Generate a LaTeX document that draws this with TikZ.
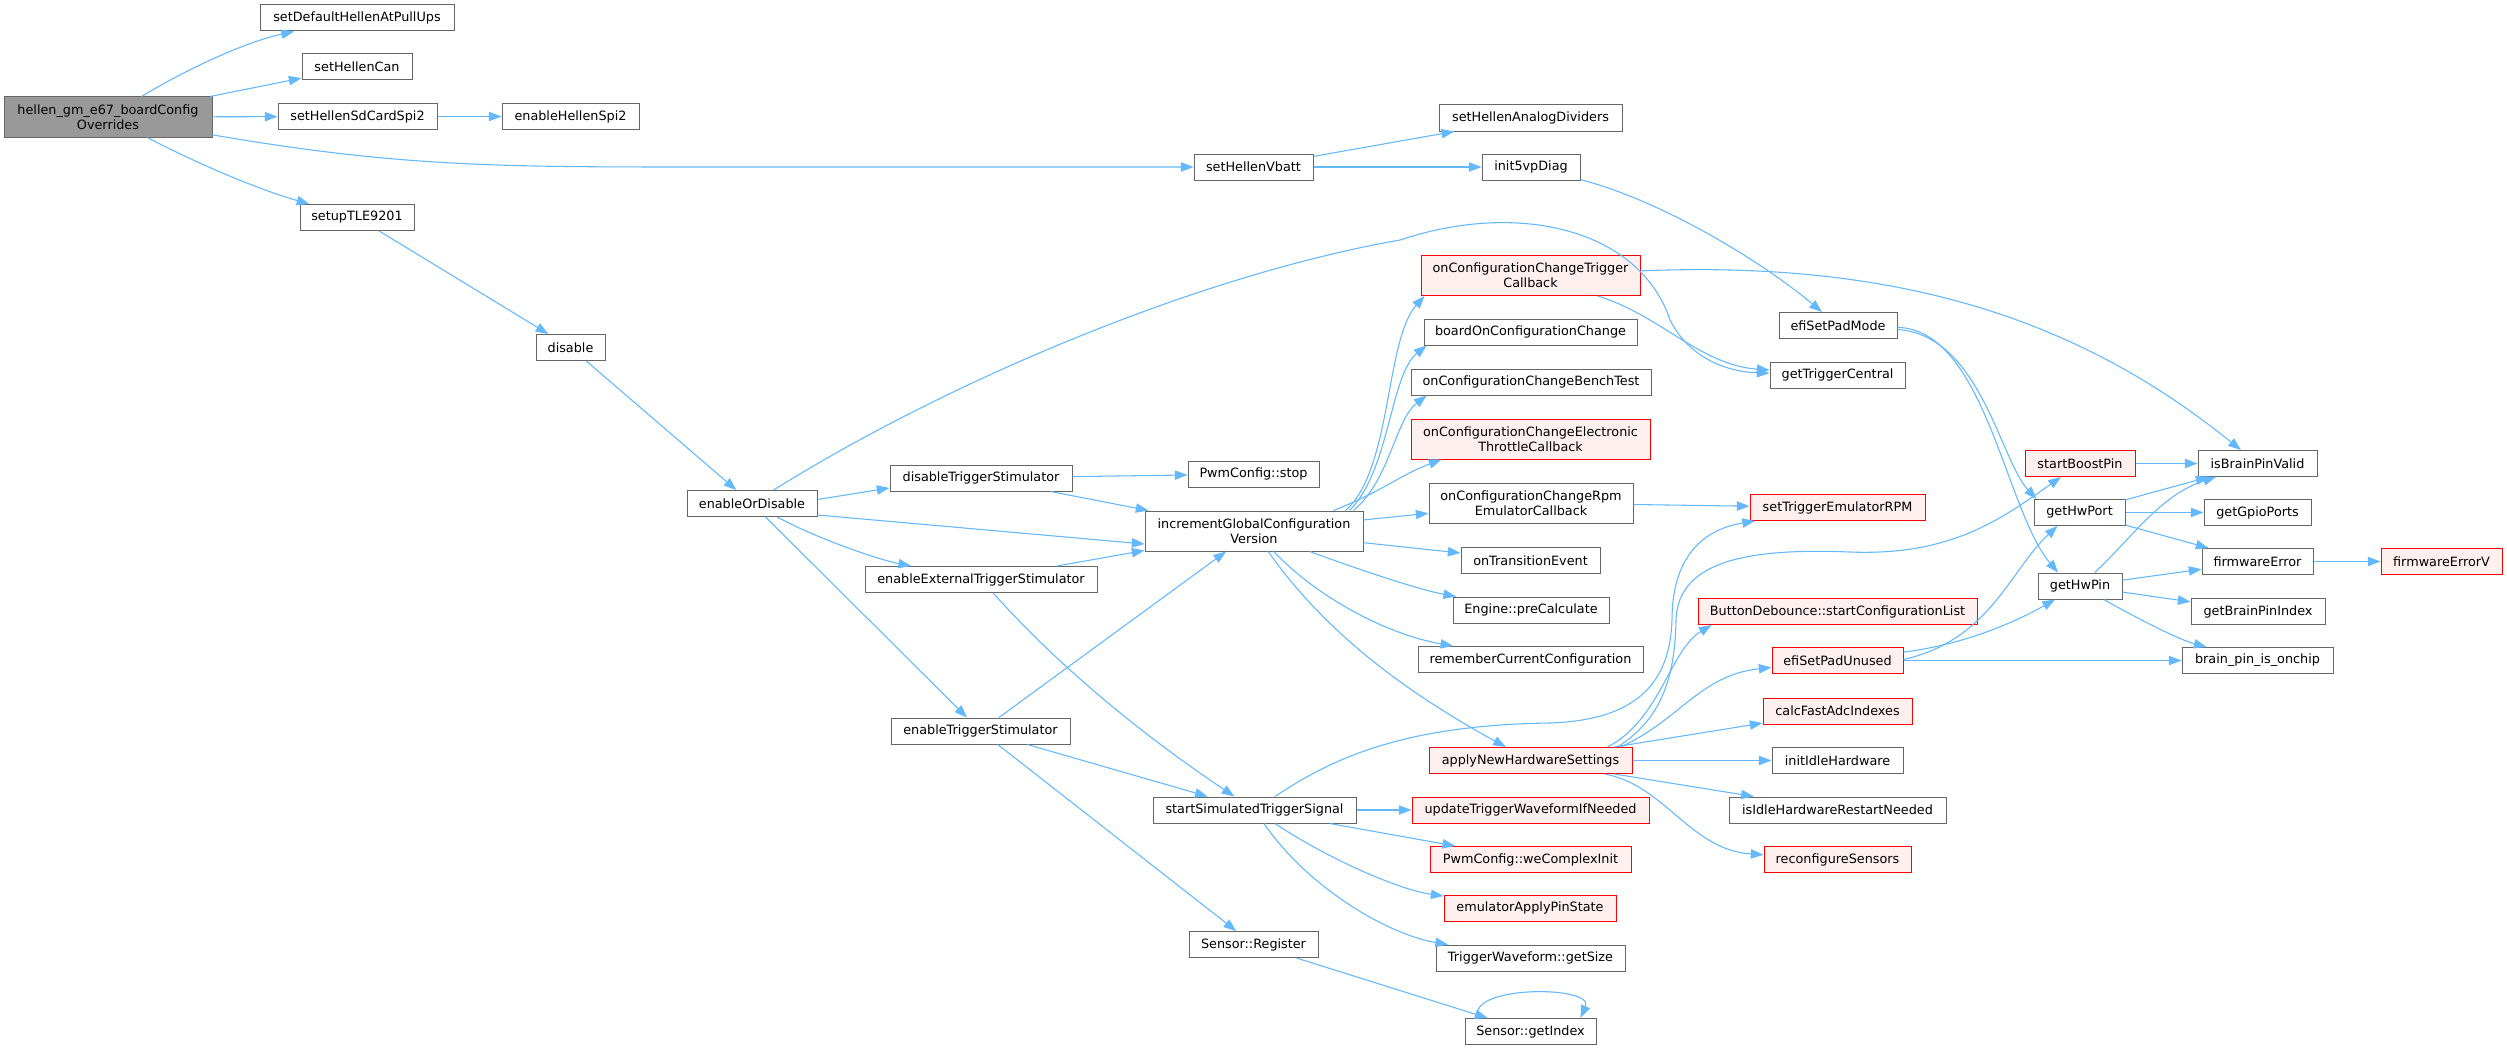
\documentclass[tikz,border=0pt]{standalone}
\usepackage{fontspec}
\setmainfont{DejaVu Sans}
\usetikzlibrary{arrows.meta,calc}
\definecolor{edgeblue}{HTML}{63B8FF}
\definecolor{nodegrey}{HTML}{666666}
\definecolor{mainfill}{HTML}{999999}
\definecolor{redfill}{HTML}{FFF0F0}
\tikzset{
  fn/.style={draw=nodegrey, line width=0.75pt, fill=white, inner sep=0pt, align=center,
    minimum height=26*0.75pt, font=\fontsize{9.6}{11.3}\selectfont},
  bw/.style={minimum width=#1*0.75pt},
  tall/.style={minimum height=40*0.75pt},
  redn/.style={draw=red, fill=redfill},
  mainn/.style={fill=mainfill},
  ca/.style={draw=edgeblue, line width=0.8pt, -{Triangle[length=9.5pt,width=7pt,fill=edgeblue]}}
}
\begin{document}
\begin{tikzpicture}[x=0.75pt,y=-0.75pt]
\fill[white] (0,0) rectangle (2507,1049);
\useasboundingbox (0,0) rectangle (2507,1049);
% column 0-2
\node[fn,mainn,tall,bw=208] (main) at (108,117) {hellen\_gm\_e67\_boardConfig\\Overrides};
\node[fn,bw=194] (sdhapu) at (357,18) {setDefaultHellenAtPullUps};
\node[fn,bw=110] (shcan) at (357,67) {setHellenCan};
\node[fn,bw=159] (sdspi) at (357.5,116.5) {setHellenSdCardSpi2};
\node[fn,bw=137] (ehspi) at (570.5,116.5) {enableHellenSpi2};
\node[fn,bw=114] (tle) at (357,217.5) {setupTLE9201};
\node[fn,bw=69] (disable) at (570.5,347.5) {disable};
% column 3-4
\node[fn,bw=130] (eod) at (752,503.5) {enableOrDisable};
\node[fn,bw=182] (dts) at (981,478) {disableTriggerStimulator};
\node[fn,bw=232] (eets) at (981,579.5) {enableExternalTriggerStimulator};
\node[fn,bw=179] (ets) at (980.5,731) {enableTriggerStimulator};
% column 5
\node[fn,bw=119] (vbatt) at (1253.5,167) {setHellenVbatt};
\node[fn,bw=131] (pwmstop) at (1253.5,474) {PwmConfig::stop};
\node[fn,tall,bw=218] (igcv) at (1254,531) {incrementGlobalConfiguration\\Version};
\node[fn,bw=203] (sts) at (1254.5,810) {startSimulatedTriggerSignal};
\node[fn,bw=129] (sreg) at (1253.5,944.5) {Sensor::Register};
% column 6
\node[fn,bw=183] (analog) at (1530.5,118) {setHellenAnalogDividers};
\node[fn,bw=98] (init5v) at (1531,167) {init5vpDiag};
\node[fn,redn,tall,bw=219] (octc) at (1530.5,275.5) {onConfigurationChangeTrigger\\Callback};
\node[fn,bw=213] (board) at (1530.5,332) {boardOnConfigurationChange};
\node[fn,bw=240] (bench) at (1531,382) {onConfigurationChangeBenchTest};
\node[fn,redn,tall,bw=239] (etc) at (1530.5,439) {onConfigurationChangeElectronic\\ThrottleCallback};
\node[fn,tall,bw=204] (rpm) at (1531,503) {onConfigurationChangeRpm\\EmulatorCallback};
\node[fn,bw=139] (ote) at (1530.5,560.5) {onTransitionEvent};
\node[fn,bw=156] (epc) at (1531,610) {Engine::preCalculate};
\node[fn,bw=225] (rcc) at (1530.5,659.5) {rememberCurrentConfiguration};
\node[fn,redn,bw=203] (anhs) at (1530.5,760.5) {applyNewHardwareSettings};
\node[fn,redn,bw=237] (utw) at (1530.5,810) {updateTriggerWaveformIfNeeded};
\node[fn,redn,bw=201] (pwci) at (1530.5,859.5) {PwmConfig::weComplexInit};
\node[fn,redn,bw=172] (eaps) at (1530,908) {emulatorApplyPinState};
\node[fn,bw=189] (twgs) at (1530.5,958) {TriggerWaveform::getSize};
\node[fn,bw=131] (sgi) at (1530.5,1031.5) {Sensor::getIndex};
% column 7
\node[fn,bw=118] (efipad) at (1838,325.5) {efiSetPadMode};
\node[fn,bw=135] (gtc) at (1837.5,375) {getTriggerCentral};
\node[fn,redn,bw=175] (ster) at (1837.5,507.5) {setTriggerEmulatorRPM};
\node[fn,redn,bw=279] (bdsc) at (1837.5,611.5) {ButtonDebounce::startConfigurationList};
\node[fn,redn,bw=131] (espu) at (1837.5,660.5) {efiSetPadUnused};
\node[fn,redn,bw=149] (cfai) at (1837.5,711) {calcFastAdcIndexes};
\node[fn,bw=131] (iih) at (1837.5,760.5) {initIdleHardware};
\node[fn,bw=217] (iihrn) at (1837.5,810) {isIdleHardwareRestartNeeded};
\node[fn,redn,bw=147] (rs) at (1837.5,859.5) {reconfigureSensors};
% column 8-10
\node[fn,redn,bw=110] (sbp) at (2080,463.5) {startBoostPin};
\node[fn,bw=91] (ghport) at (2079.5,512.5) {getHwPort};
\node[fn,bw=84] (ghpin) at (2080,586) {getHwPin};
\node[fn,bw=119] (ibpv) at (2257.5,463.5) {isBrainPinValid};
\node[fn,bw=107] (ggp) at (2257.5,512.5) {getGpioPorts};
\node[fn,bw=111] (fe) at (2257.5,561.5) {firmwareError};
\node[fn,bw=134] (gbpi) at (2258,611.5) {getBrainPinIndex};
\node[fn,bw=151] (bpio) at (2257.5,660.5) {brain\_pin\_is\_onchip};
\node[fn,redn,bw=121] (fev) at (2441.5,561.5) {firmwareErrorV};

% ---- edges ----
\draw[ca] (main) .. controls (185,70) and (245,42) .. (sdhapu);
\draw[ca] (main) -- (shcan);
\draw[ca] (main) -- (sdspi);
\draw[ca] (main) .. controls (400,167) and (500,167) .. (700,167) -- (vbatt);
\draw[ca] (main) .. controls (200,165) and (260,190) .. (tle);
\draw[ca] (sdspi) -- (ehspi);
\draw[ca] (vbatt) -- (analog);
\draw[ca] (vbatt) -- (init5v);
\draw[ca] (init5v) .. controls (1660,200) and (1760,260) .. (efipad);
\draw[ca] (tle) -- (disable);
\draw[ca] (disable) -- (eod);
\draw[ca] (eod) .. controls (950,380) and (1200,275) .. (1400,240)
  .. controls (1520,200) and (1640,230) .. (1670,320)
  .. controls (1690,360) and (1730,372) .. (gtc);
\draw[ca] ($(eod.east)+(0,-4)$) -- ($(dts.west)+(0,10)$);
\draw[ca] ($(eod.south east)+(0,-2)$) -- ($(igcv.west)+(0,13)$);
\draw[ca] (eod) .. controls (820,540) and (880,560) .. (eets);
\draw[ca] (eod) -- (ets);
\draw[ca] (dts) -- (pwmstop);
\draw[ca] (dts) -- (igcv);
\draw[ca] (eets) -- (igcv);
\draw[ca] (eets) .. controls (1080,690) and (1180,760) .. (sts);
\draw[ca] (ets) -- (igcv);
\draw[ca] (ets) -- (sts);
\draw[ca] (ets) -- (sreg);
% incrementGlobalConfigurationVersion
\draw[ca] ($(igcv.north east)+(-18,0)$) .. controls (1392,470) and (1385,340) .. ($(octc.south west)+(4,0)$);
\draw[ca] ($(igcv.north east)+(-14,0)$) .. controls (1390,470) and (1390,375) .. ($(board.south west)+(3,0)$);
\draw[ca] ($(igcv.north east)+(-10,0)$) .. controls (1390,480) and (1395,420) .. ($(bench.south west)+(16,0)$);
\draw[ca] ($(igcv.north east)+(-30,0)$) .. controls (1385,490) and (1400,475) .. ($(etc.south west)+(31,0)$);
\draw[ca] (igcv) -- (rpm);
\draw[ca] (igcv) -- (ote);
\draw[ca] (igcv) .. controls (1360,570) and (1420,590) .. (epc);
\draw[ca] (igcv) .. controls (1320,600) and (1390,635) .. (rcc);
\draw[ca] (igcv) .. controls (1330,640) and (1420,700) .. (anhs);
% column 6 -> 7
\draw[ca] (octc) .. controls (1660,315) and (1700,365) .. (gtc);
\draw[ca] (octc) .. controls (1900,260) and (2080,320) .. (ibpv);
\draw[ca] (rpm) -- (ster);
\draw[ca] (sts) .. controls (1330,760) and (1400,725) .. (1550,723)
  .. controls (1640,720) and (1670,680) .. (1672,620)
  .. controls (1672,560) and (1700,530) .. (ster);
\draw[ca] ($(anhs.north east)+(-15,0)$) .. controls (1660,720) and (1675,680) .. (1676,620)
  .. controls (1678,560) and (1750,548) .. (1850,552)
  .. controls (1950,556) and (2000,520) .. (sbp);
\draw[ca] ($(anhs.north east)+(-25,0)$) .. controls (1660,720) and (1670,650) .. ($(bdsc.south west)+(14,0)$);
\draw[ca] ($(anhs.north east)+(-12,0)$) .. controls (1680,720) and (1700,675) .. (espu);
\draw[ca] (anhs) -- (cfai);
\draw[ca] (anhs) -- (iih);
\draw[ca] (anhs) -- (iihrn);
\draw[ca] (anhs) .. controls (1665,785) and (1690,850) .. (rs);
\draw[ca] (sts) -- (utw);
\draw[ca] (sts) -- (pwci);
\draw[ca] (sts) .. controls (1330,860) and (1400,890) .. (eaps);
\draw[ca] (sts) .. controls (1310,890) and (1390,935) .. (twgs);
\draw[ca] (sreg) -- (sgi);
\draw[ca] ($(sgi.north)+(-52,0)$) .. controls (1465,985) and (1595,985) .. ($(sgi.north)+(50,0)$);
% column 7 -> 8
\draw[ca] (efipad) .. controls (1980,335) and (2000,460) .. ($(ghport.north west)+(3,0)$);
\draw[ca] (efipad) .. controls (1985,330) and (2005,510) .. ($(ghpin.north)+(-22,0)$);
\draw[ca] ($(espu.east)+(0,-1)$) .. controls (1990,640) and (2010,570) .. ($(ghport.south)+(-22,0)$);
\draw[ca] (espu) .. controls (1960,645) and (2010,625) .. ($(ghpin.south)+(-25,0)$);
\draw[ca] (espu) -- (bpio);
% column 8 -> 9
\draw[ca] (sbp) -- (ibpv);
\draw[ca] (ghport) -- (ibpv);
\draw[ca] (ghport) -- (ggp);
\draw[ca] (ghport) -- (fe);
\draw[ca] (ghpin) .. controls (2130,540) and (2160,495) .. (ibpv);
\draw[ca] (ghpin) -- (fe);
\draw[ca] (ghpin) -- (gbpi);
\draw[ca] (ghpin) .. controls (2140,620) and (2180,640) .. (bpio);
\draw[ca] (fe) -- (fev);
\end{tikzpicture}
\end{document}
